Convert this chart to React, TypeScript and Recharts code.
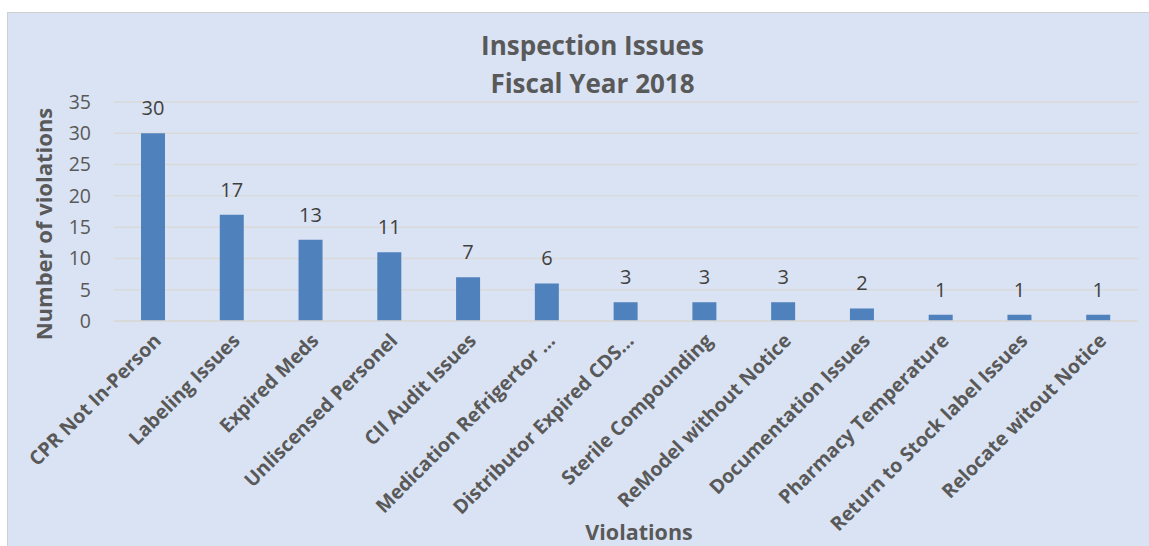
import { BarChart, Bar, XAxis, YAxis, CartesianGrid, LabelList } from 'recharts'

const categories = [
  'CPR Not In-Person',
  'Labeling Issues',
  'Expired Meds',
  'Unliscensed Personel',
  'CII Audit Issues',
  'Medication Refrigertor …',
  'Distributor Expired CDS…',
  'Sterile Compounding',
  'ReModel without Notice',
  'Documentation Issues',
  'Pharmacy Temperature',
  'Return to Stock label Issues',
  'Relocate witout Notice',
]
const violations = [30, 17, 13, 11, 7, 6, 3, 3, 3, 2, 1, 1, 1]
const yTicks = [0, 5, 10, 15, 20, 25, 30, 35]

const data = categories.map((name, i) => ({ name, value: violations[i] }))

const FONT = '"Open Sans", "Noto Sans", sans-serif'
const GRAY = '#595959'

function AngledTick({ x, y, payload }: any) {
  return (
    <g transform={`translate(${x + 4},${y + 8})`}>
      <text
        transform="rotate(-45)"
        textAnchor="end"
        dy={7}
        fill={GRAY}
        fontSize={19.5}
        fontWeight="bold"
        fontFamily={FONT}
      >
        {payload.value}
      </text>
    </g>
  )
}

export default function App() {
  return (
    <div style={{ position: 'fixed', left: 0, top: 0, width: 1149, height: 546, overflow: 'hidden', background: '#fff' }}>
      <style>{'html,body{margin:0;overflow:hidden}'}</style>
      <div
        style={{
          position: 'absolute',
          left: 7,
          top: 12,
          width: 1160,
          height: 560,
          background: '#dae3f3',
          border: '1px solid #d0d0d0',
        }}
      />
      <div
        style={{
          position: 'absolute',
          left: 0,
          top: 26,
          width: 1185,
          textAlign: 'center',
          fontFamily: FONT,
          fontWeight: 'bold',
          fontSize: 26,
          lineHeight: '38px',
          color: GRAY,
        }}
      >
        Inspection Issues
        <br />
        Fiscal Year 2018
      </div>
      <div
        style={{
          position: 'absolute',
          left: 43,
          top: 224,
          transform: 'translate(-50%, -50%) rotate(-90deg)',
          whiteSpace: 'nowrap',
          fontFamily: FONT,
          fontWeight: 'bold',
          fontSize: 22,
          color: GRAY,
        }}
      >
        Number of violations
      </div>
      <div
        style={{
          position: 'absolute',
          left: 639,
          top: 532,
          transform: 'translate(-50%, -50%)',
          whiteSpace: 'nowrap',
          fontFamily: FONT,
          fontWeight: 'bold',
          fontSize: 21.5,
          lineHeight: '26px',
          color: GRAY,
        }}
      >
        Violations
      </div>
      <div style={{ position: 'absolute', left: 0, top: 0 }}>
        <BarChart width={1149} height={546} data={data} margin={{ top: 102, right: 11, bottom: 0, left: 0 }}>
          <CartesianGrid vertical={false} stroke="#d9d9d9" strokeWidth={1.5} />
          <XAxis
            dataKey="name"
            interval={0}
            axisLine={{ stroke: '#d9d9d9', strokeWidth: 1.5 }}
            tickLine={false}
            tick={<AngledTick />}
            height={225}
          />
          <YAxis
            width={114}
            domain={[0, 35]}
            ticks={yTicks}
            axisLine={false}
            tickLine={false}
            tickSize={20}
            tickMargin={3}
            tick={{ fill: GRAY, fontSize: 19.5, fontFamily: FONT }}
          />
          <Bar dataKey="value" fill="#4f81bd" barSize={24} isAnimationActive={false}>
            <LabelList dataKey="value" position="top" offset={18} fill="#404040" fontSize={20} fontFamily={FONT} />
          </Bar>
        </BarChart>
      </div>
    </div>
  )
}
